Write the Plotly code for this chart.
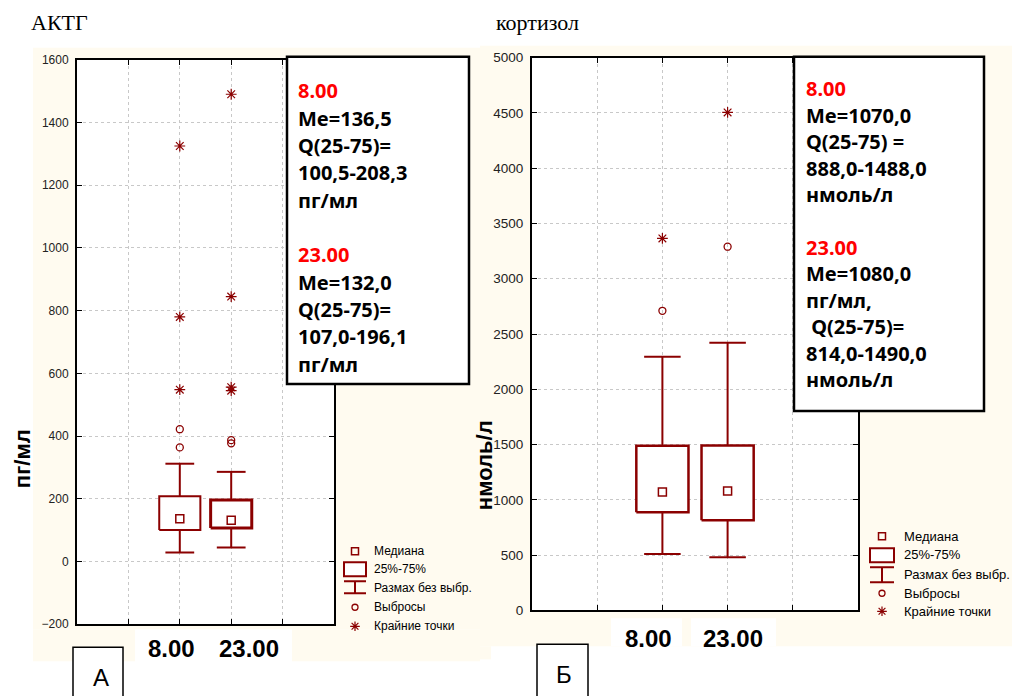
import plotly.graph_objects as go

W = 1012
FIG_H = 712      # figure height (page)
OFF_Y = 6.3      # observed vertical offset of the photographed page
SC_Y = 0.978     # observed vertical scale of the photographed page

# ---------------- data ----------------
categories = ["8.00", "23.00"]

acth_q1 = [100.5, 107.0]
acth_median = [136.5, 132.0]
acth_q3 = [208.3, 196.1]
acth_whisker_low = [29, 45]
acth_whisker_high = [312, 286]
acth_outliers = [[422, 364], [387, 377]]
acth_extremes = [[1325, 780, 548], [1490, 845, 556, 545]]

cort_q1 = [888.0, 814.0]
cort_median = [1070.0, 1080.0]
cort_q3 = [1488.0, 1490.0]
cort_whisker_low = [510, 480]
cort_whisker_high = [2295, 2420]
cort_outliers = [[2710], [3290]]
cort_extremes = [[3365], [4505]]

acth_ticks = [-200, 0, 200, 400, 600, 800, 1000, 1200, 1400, 1600]
cort_ticks = [0, 500, 1000, 1500, 2000, 2500, 3000, 3500, 4000, 4500, 5000]

acth_text = ["8.00", "Me=136,5", "Q(25-75)=", "100,5-208,3", "пг/мл", "",
             "23.00", "Me=132,0", "Q(25-75)=", "107,0-196,1", "пг/мл"]
cort_text = ["8.00", "Me=1070,0", "Q(25-75) =", "888,0-1488,0", "нмоль/л", "",
             "23.00", "Me=1080,0", "пг/мл,", " Q(25-75)=", "814,0-1490,0", "нмоль/л"]
legend_labels = ["Медиана", "25%-75%", "Размах без выбр.", "Выбросы", "Крайние точки"]

# ---------------- style ----------------
RED = "#8B0000"
CREAM = "#FFFBF0"
GRID = "#c8c8c8"


def px(x):
    return x / W


def py(y):
    return 1 - ((y - OFF_Y) / SC_Y) / FIG_H


fig = go.Figure()


def add_boxes(xa, ya, q1, med, q3, lo, hi, outl, extr, widths):
    for i, c in enumerate(categories):
        p = 2 + i
        hw, cw = 0.4, 0.28
        fig.add_trace(go.Scatter(
            x=[p, p, None, p, p], y=[q3[i], hi[i], None, q1[i], lo[i]],
            mode="lines", line=dict(color=RED, width=2), xaxis=xa, yaxis=ya,
            showlegend=False, hoverinfo="skip"))
        fig.add_trace(go.Scatter(
            x=[p - cw, p + cw, None, p - cw, p + cw], y=[hi[i], hi[i], None, lo[i], lo[i]],
            mode="lines", line=dict(color=RED, width=2), xaxis=xa, yaxis=ya,
            showlegend=False, hoverinfo="skip"))
        fig.add_trace(go.Scatter(
            x=[p - hw, p + hw, p + hw, p - hw, p - hw],
            y=[q1[i], q1[i], q3[i], q3[i], q1[i]],
            mode="lines", fill="toself", fillcolor="white",
            line=dict(color=RED, width=widths[i]), xaxis=xa, yaxis=ya,
            showlegend=False, hoverinfo="skip"))
        fig.add_trace(go.Scatter(
            x=[p], y=[med[i]], mode="markers",
            marker=dict(symbol="square-open", size=8, color=RED, line=dict(width=1.5)),
            xaxis=xa, yaxis=ya, showlegend=False))
        fig.add_trace(go.Scatter(
            x=[p] * len(outl[i]), y=outl[i], mode="markers",
            marker=dict(symbol="circle-open", size=7, color=RED, line=dict(width=1.3)),
            xaxis=xa, yaxis=ya, showlegend=False))
        fig.add_trace(go.Scatter(
            x=[p] * len(extr[i]), y=extr[i], mode="markers",
            marker=dict(symbol="asterisk-open", size=9, color=RED, line=dict(width=1.2)),
            xaxis=xa, yaxis=ya, showlegend=False))


add_boxes("x", "y", acth_q1, acth_median, acth_q3, acth_whisker_low, acth_whisker_high,
          acth_outliers, acth_extremes, [2, 3])
add_boxes("x2", "y2", cort_q1, cort_median, cort_q3, cort_whisker_low, cort_whisker_high,
          cort_outliers, cort_extremes, [2.5, 2.5])


def legend_glyphs(cx, rows):
    fig.add_trace(go.Scatter(x=[px(cx)], y=[py(rows[0])], mode="markers", xaxis="x3", yaxis="y3",
                             marker=dict(symbol="square-open", size=7, color=RED, line=dict(width=1.5)),
                             showlegend=False, hoverinfo="skip"))
    fig.add_trace(go.Scatter(x=[px(cx)], y=[py(rows[3])], mode="markers", xaxis="x3", yaxis="y3",
                             marker=dict(symbol="circle-open", size=6, color=RED, line=dict(width=1.3)),
                             showlegend=False, hoverinfo="skip"))
    fig.add_trace(go.Scatter(x=[px(cx)], y=[py(rows[4])], mode="markers", xaxis="x3", yaxis="y3",
                             marker=dict(symbol="asterisk-open", size=8, color=RED, line=dict(width=1.2)),
                             showlegend=False, hoverinfo="skip"))


legend_glyphs(355, [550, 568, 586, 606, 625])
legend_glyphs(882, [535, 553, 573, 592, 610])

shapes = []


def rect(x0, x1, y0, y1, fill, lc=None, lw=0, layer="below"):
    shapes.append(dict(type="rect", xref="paper", yref="paper", x0=px(x0), x1=px(x1), y0=py(y1), y1=py(y0),
                       fillcolor=fill, line=dict(color=lc or "rgba(0,0,0,0)", width=lw), layer=layer))


rect(33, 480, 47, 628, CREAM)
rect(33, 135, 628, 660, CREAM)
rect(292, 480, 628, 660, CREAM)
rect(480, 1012, 45, 645, CREAM)
rect(480, 491, 645, 658, CREAM)
for (a, b, c, d) in [(77, 334, 59, 623), (532, 858, 57, 609), (611, 682, 617, 645), (691, 776, 617, 645)]:
    rect(a, b, c, d, "white")
for (x0, x1, yb0, yb1, yw0, yw1) in [(344, 366, 561, 575, 580, 592), (870, 894, 547, 561, 566, 581)]:
    rect(x0, x1, yb0, yb1, "white", RED, 2, layer="above")
    cx = (x0 + x1) / 2
    for (a, b, c, d) in [(x0, x1, yw0, yw0), (x0, x1, yw1, yw1), (cx, cx, yw0, yw1)]:
        shapes.append(dict(type="line", xref="paper", yref="paper", x0=px(a), x1=px(b), y0=py(c), y1=py(d),
                           line=dict(color=RED, width=2)))
rect(287, 469, 56, 383, "white", "black", 2.5, layer="above")
rect(794, 984, 56, 410, "white", "black", 2.5, layer="above")
rect(73, 123, 646, 705, "white", "black", 1.5, layer="above")
rect(537, 588, 643, 705, "white", "black", 1.5, layer="above")

annotations = []


def ann(text, x, y, size, xanchor="left", color="black", family="Noto Sans", bold=False, angle=0):
    t = f"<b>{text}</b>" if bold else text
    annotations.append(dict(text=t, x=px(x), y=py(y), xref="paper", yref="paper", showarrow=False,
                            xanchor=xanchor, yanchor="middle", textangle=angle,
                            font=dict(size=size, color=color, family=family)))


y = 90
for line in acth_text:
    if line:
        col = "#FF0000" if line in ("8.00", "23.00") else "black"
        ann(line, 296, y, 20, color=col, bold=True)
    y += 27.3
y = 88
for line in cort_text:
    if line:
        col = "#FF0000" if line in ("8.00", "23.00") else "black"
        ann(line, 804, y, 20, color=col, bold=True)
    y += 26.4

for lab, yy in zip(legend_labels, [550, 568, 587, 606, 625]):
    ann(lab, 372, yy, 12, family="Liberation Sans")
for lab, yy in zip(legend_labels, [535, 553, 573, 592, 610]):
    ann(lab, 902, yy, 13, family="Liberation Sans")

ann(categories[0], 171, 647, 24, xanchor="center", family="Liberation Sans", bold=True)
ann(categories[1], 249, 647, 24, xanchor="center", family="Liberation Sans", bold=True)
ann(categories[0], 648, 637, 24, xanchor="center", family="Liberation Sans", bold=True)
ann(categories[1], 733, 637, 24, xanchor="center", family="Liberation Sans", bold=True)

ann("АКТГ", 29, 22, 22, family="Liberation Serif")
ann("кортизол", 494, 22, 22, family="Liberation Serif")
ann("пг/мл", 22, 458, 22, xanchor="center", family="Liberation Sans", bold=True, angle=-90)
ann("нмоль/л", 484, 464, 22, xanchor="center", family="Liberation Sans", bold=True, angle=-90)
ann("А", 101, 676, 24, xanchor="center", family="Liberation Sans")
ann("Б", 564, 673, 24, xanchor="center", family="Liberation Sans")

xcommon = dict(range=[0, 5], tickvals=[1, 2, 3, 4], showticklabels=False, ticks="inside", ticklen=5,
               tickcolor="black", showline=True, linecolor="black", linewidth=2, mirror="ticks",
               showgrid=True, gridcolor=GRID, griddash="dot", gridwidth=1, zeroline=False, fixedrange=True)
ycommon = dict(ticks="inside", ticklen=5, tickcolor="black", showline=True, linecolor="black", linewidth=2,
               mirror="ticks", showgrid=True, gridcolor=GRID, griddash="dot", gridwidth=1, zeroline=False,
               ticklabelstandoff=4, fixedrange=True)

fig.update_layout(
    width=W, height=FIG_H, margin=dict(l=0, r=0, t=0, b=0),
    paper_bgcolor="white", plot_bgcolor="rgba(0,0,0,0)",
    xaxis=dict(domain=[px(77), px(334)], anchor="y", **xcommon),
    yaxis=dict(domain=[py(623), py(59)], anchor="x", range=[-200, 1600], tickvals=acth_ticks,
               tickfont=dict(family="Liberation Sans", size=12, color="#222"), **ycommon),
    xaxis2=dict(domain=[px(532), px(858)], anchor="y2", **xcommon),
    yaxis2=dict(domain=[py(609), py(57)], anchor="x2", range=[0, 5000], tickvals=cort_ticks,
                tickfont=dict(family="Liberation Sans", size=13.5, color="#222"), **ycommon),
    xaxis3=dict(domain=[0, 1], anchor="y3", range=[0, 1], visible=False, fixedrange=True),
    yaxis3=dict(domain=[0, 1], anchor="x3", range=[0, 1], visible=False, fixedrange=True),
    shapes=shapes, annotations=annotations, showlegend=False,
)

fig.write_html("out.html", config={"displayModeBar": False},
               post_script="document.body.style.margin='0';document.body.style.overflow='hidden';"
                           "document.documentElement.style.overflow='hidden';")
